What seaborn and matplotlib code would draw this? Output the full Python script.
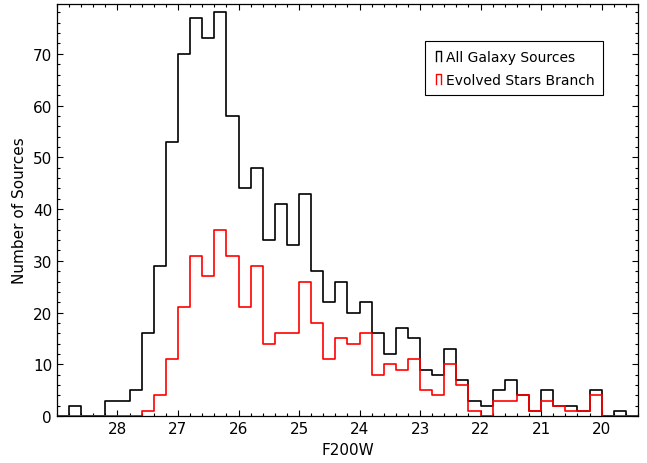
import numpy as np
import pandas as pd
import matplotlib
matplotlib.use('Agg')
import matplotlib.pyplot as plt
import seaborn as sns
from matplotlib.legend_handler import HandlerBase
from matplotlib.lines import Line2D
from matplotlib.ticker import MultipleLocator

# bins of 0.2 mag, listed faint -> bright (29.0-28.8 ... 19.6-19.4)
bin_centers = np.round(np.arange(28.9, 19.4, -0.2), 2)

all_counts = [0, 2, 0, 0, 3, 3, 5, 16, 29, 53, 70, 77, 73, 78, 58, 44,
              48, 34, 41, 33, 43, 28, 22, 26, 20, 22, 16, 12, 17, 15, 9, 8,
              13, 7, 3, 2, 5, 7, 4, 1, 5, 2, 2, 1, 5, 0, 1, 0]
esb_counts = [0, 0, 0, 0, 0, 0, 0, 1, 4, 11, 21, 31, 27, 36, 31, 21,
              29, 14, 16, 16, 26, 18, 11, 15, 14, 16, 8, 10, 9, 11, 5, 4,
              10, 6, 1, 0, 3, 3, 4, 1, 3, 2, 1, 1, 4, 0, 0, 0]

labels = ['All Galaxy Sources', 'Evolved Stars Branch']
colors = ['black', 'red']
xticks = [28, 27, 26, 25, 24, 23, 22, 21, 20]

df = pd.DataFrame({'mag': bin_centers, 'all': all_counts, 'esb': esb_counts})

plt.rcParams['font.family'] = 'DejaVu Sans'
plt.rcParams['font.size'] = 11

fig = plt.figure(figsize=(6.47, 4.64), dpi=100)
ax = fig.add_axes([0.088, 0.101, 0.898, 0.888])

sns.histplot(data=df, x='mag', weights='all', binwidth=0.2, binrange=(19.4, 29.0),
             element='step', fill=False, color=colors[0], lw=1.2, ax=ax)
sns.histplot(data=df, x='mag', weights='esb', binwidth=0.2, binrange=(19.4, 29.0),
             element='step', fill=False, color=colors[1], lw=1.2, ax=ax)

ax.set_xlim(29.0, 19.4)
ax.set_ylim(0, 79.6)
ax.set_xticks(xticks)
ax.xaxis.set_minor_locator(MultipleLocator(0.2))
ax.yaxis.set_major_locator(MultipleLocator(10))
ax.yaxis.set_minor_locator(MultipleLocator(2))
ax.tick_params(which='both', direction='in', top=True, right=True, width=0.8)
ax.tick_params(which='major', length=4.5)
ax.tick_params(which='minor', length=2.2)
ax.set_xlabel('F200W', fontsize=11)
ax.set_ylabel('Number of Sources', fontsize=11)
for s in ax.spines.values():
    s.set_linewidth(0.9)


class StepHandler(HandlerBase):
    def create_artists(self, legend, orig_handle, xdescent, ydescent,
                       width, height, fontsize, trans):
        w = width * 0.55
        x0 = width - w - 1
        xs = [x0, x0, x0 + w, x0 + w]
        ys = [-0.05 * height, height * 0.95, height * 0.95, -0.05 * height]
        ln = Line2D(xs, ys, color=orig_handle.get_color(), lw=1.0)
        ln.set_transform(trans)
        return [ln]


handles = [Line2D([], [], color=c) for c in colors]
leg = ax.legend(handles, labels, handler_map={Line2D: StepHandler()},
                loc='upper left', bbox_to_anchor=(0.633, 0.91), fontsize=10,
                handlelength=0.7, handletextpad=0.25, labelspacing=0.65,
                borderpad=0.6, borderaxespad=0, fancybox=False, framealpha=1,
                edgecolor='black')
leg.get_frame().set_linewidth(0.8)

fig.savefig('out.png', dpi=100)
